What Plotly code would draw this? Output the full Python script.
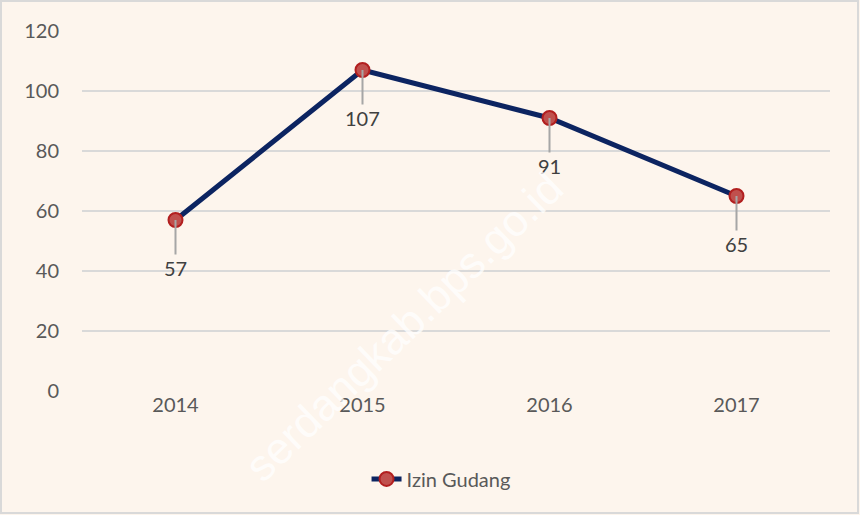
import plotly.graph_objects as go

years = ["2014", "2015", "2016", "2017"]
izin_gudang = [57, 107, 91, 65]
y_ticks = [0, 20, 40, 60, 80, 100, 120]

font_family = "Lato, 'Open Sans', sans-serif"
text_color = "#595959"

fig = go.Figure()
fig.add_trace(go.Scatter(
    x=years, y=izin_gudang, mode="lines+markers", name="Izin Gudang",
    line=dict(color="#0c2461", width=5),
    marker=dict(size=14, color="#c0504d", line=dict(color="#b21f1f", width=2)),
))

for i, yv in enumerate(izin_gudang):
    fig.add_annotation(
        x=i, y=yv, text=str(yv), showarrow=True, arrowhead=0,
        arrowcolor="#a6a6a6", arrowwidth=2, ax=0, ay=48,
        font=dict(family=font_family, size=20, color="#404040"),
        standoff=0,
    )

fig.add_annotation(
    xref="paper", yref="paper", x=0.43, y=0.18, xanchor="center", yanchor="middle",
    text="serdangkab.bps.go.id",
    showarrow=False, textangle=-44,
    font=dict(family="Liberation Sans", size=44, color="rgba(255,255,255,0.75)"),
)

fig.add_shape(type="rect", xref="paper", yref="paper",
              x0=-81/748, x1=1 + 28/748, y0=-122/360, y1=1 + 30/360,
              line=dict(color="#d9d9d9", width=2), layer="below")

fig.update_layout(
    width=860, height=515,
    margin=dict(l=82, r=30, t=31, b=124),
    paper_bgcolor="#fdf5ed", plot_bgcolor="rgba(0,0,0,0)",
    font=dict(family=font_family, size=20, color=text_color),
    showlegend=True,
    legend=dict(orientation="h", x=0.48, xanchor="center", y=-0.19, yanchor="top",
                font=dict(size=20, color=text_color), bgcolor="rgba(0,0,0,0)"),
    xaxis=dict(type="category", range=[-0.5, 3.5], showgrid=False, showline=False,
               zeroline=False, ticks="", tickfont=dict(size=20, color=text_color)),
    yaxis=dict(range=[0, 120], tickvals=y_ticks, showgrid=True, gridcolor="#d9d9d9",
               gridwidth=1.5, zeroline=False, showline=False, ticks="",
               ticklabelstandoff=22, tickfont=dict(size=20, color=text_color)),
)

fig.write_html("out.html", config={"displayModeBar": False},
               post_script="document.body.style.margin='0';")
